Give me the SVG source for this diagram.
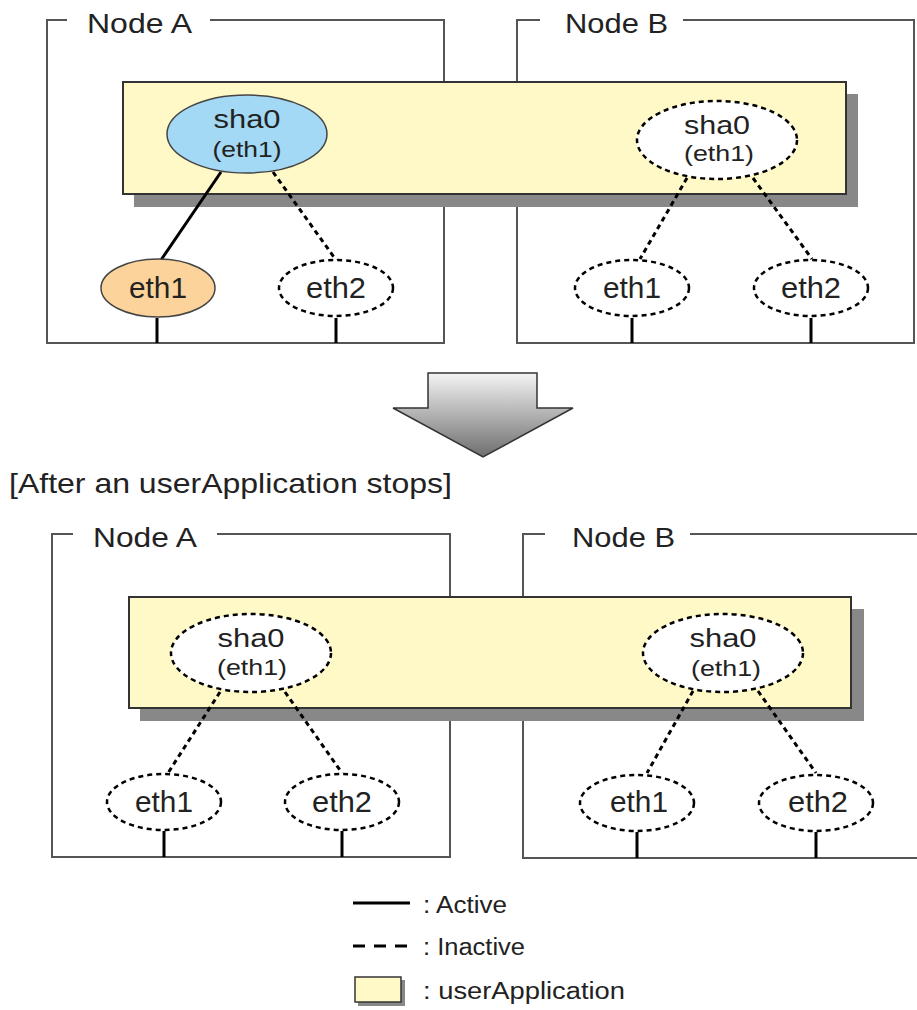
<svg xmlns="http://www.w3.org/2000/svg" width="917" height="1010" viewBox="0 0 917 1010">
<defs>
<linearGradient id="arrowGrad" x1="0" y1="0" x2="0" y2="1">
<stop offset="0" stop-color="#f4f4f4"/>
<stop offset="1" stop-color="#6e6e6e"/>
</linearGradient>
<style>
.frame{fill:none;stroke:#555;stroke-width:2}
.ua{fill:#fff9c8;stroke:#333;stroke-width:2}
.shadow{fill:#888}
.ell{stroke:#000;stroke-width:2.5;stroke-dasharray:5,4;fill:#fff}
.solidE{stroke:#444;stroke-width:1.5}
.act{stroke:#000;stroke-width:3;fill:none}
.inact{stroke:#000;stroke-width:3;fill:none;stroke-dasharray:5,4}
.stub{stroke:#000;stroke-width:3}
.t{font-family:"Liberation Sans",Arial,sans-serif;fill:#222}
.lab{font-size:28px}
.sha{font-size:25px}
.sm{font-size:22px}
.eth{font-size:29px}
.leg{font-size:23px}
</style>
</defs>
<rect width="917" height="1010" fill="#fff"/>

<!-- Top section -->
<g id="nodeA-top">
<path class="frame" d="M67,20 H47 V343 H444 V20 H210"/>
<text class="t lab" x="87" y="33" textLength="105" lengthAdjust="spacingAndGlyphs">Node A</text>
</g>
<g id="nodeB-top">
<path class="frame" d="M540,20 H517 V343 H914 V20 H683"/>
<text class="t lab" x="565" y="33" textLength="103" lengthAdjust="spacingAndGlyphs">Node B</text>
</g>
<g id="ua-top">
<rect class="shadow" x="134" y="94" width="724" height="113"/>
<rect class="ua" x="123" y="82" width="723" height="112"/>
</g>

<g id="connectors-top">
<line class="act" x1="221" y1="172" x2="161" y2="260"/>
<line class="inact" x1="273" y1="172" x2="336" y2="260"/>
<line class="inact" x1="687" y1="178" x2="640" y2="259"/>
<line class="inact" x1="753" y1="178" x2="812" y2="259"/>
<line class="stub" x1="157" y1="318" x2="157" y2="343"/>
<line class="stub" x1="336" y1="318" x2="336" y2="343"/>
<line class="stub" x1="632" y1="318" x2="632" y2="343"/>
<line class="stub" x1="811" y1="318" x2="811" y2="343"/>
</g>

<g id="sha0-A-top">
<ellipse class="solidE" cx="247" cy="134" rx="80" ry="39" fill="#a3d9f5"/>
<text class="t sha" x="247" y="128" text-anchor="middle" textLength="67" lengthAdjust="spacingAndGlyphs">sha0</text>
<text class="t sm" x="247" y="157" text-anchor="middle" textLength="69" lengthAdjust="spacingAndGlyphs">(eth1)</text>
</g>
<g id="eth1-A-top">
<ellipse class="solidE" cx="158" cy="288" rx="57" ry="29" fill="#fcd49b"/>
<text class="t eth" x="158" y="298" text-anchor="middle" textLength="58" lengthAdjust="spacingAndGlyphs">eth1</text>
</g>
<g id="eth2-A-top">
<ellipse class="ell" cx="336" cy="288" rx="57" ry="28"/>
<text class="t eth" x="336" y="298" text-anchor="middle" textLength="60" lengthAdjust="spacingAndGlyphs">eth2</text>
</g>
<g id="sha0-B-top">
<ellipse class="ell" cx="717" cy="140" rx="80" ry="39"/>
<text class="t sha" x="717" y="134" text-anchor="middle" textLength="66" lengthAdjust="spacingAndGlyphs">sha0</text>
<text class="t sm" x="719" y="161" text-anchor="middle" textLength="70" lengthAdjust="spacingAndGlyphs">(eth1)</text>
</g>
<g id="eth1-B-top">
<ellipse class="ell" cx="632" cy="288" rx="57" ry="28"/>
<text class="t eth" x="632" y="298" text-anchor="middle" textLength="58" lengthAdjust="spacingAndGlyphs">eth1</text>
</g>
<g id="eth2-B-top">
<ellipse class="ell" cx="811" cy="288" rx="57" ry="28"/>
<text class="t eth" x="811" y="298" text-anchor="middle" textLength="60" lengthAdjust="spacingAndGlyphs">eth2</text>
</g>

<!-- Transition arrow -->
<g id="arrow">
<path d="M428,373 H537 V408 H573 L483,457 L393,408 H428 Z" fill="url(#arrowGrad)" stroke="#333" stroke-width="1.5" stroke-linejoin="miter"/>
</g>

<text class="t lab" x="9" y="493" font-size="29" textLength="443" lengthAdjust="spacingAndGlyphs">[After an userApplication stops]</text>

<!-- Bottom section -->
<g id="nodeA-bottom">
<path class="frame" d="M73,534 H52 V857 H450 V534 H217"/>
<text class="t lab" x="93" y="547" textLength="104" lengthAdjust="spacingAndGlyphs">Node A</text>
</g>
<g id="nodeB-bottom">
<path class="frame" d="M545,534 H523 V858 H920 M920,534 H690"/>
<text class="t lab" x="572" y="547" textLength="103" lengthAdjust="spacingAndGlyphs">Node B</text>
</g>
<g id="ua-bottom">
<rect class="shadow" x="140" y="609" width="724" height="112"/>
<rect class="ua" x="129" y="597" width="722" height="111"/>
</g>

<g id="connectors-bottom">
<line class="inact" x1="220" y1="692" x2="168" y2="773"/>
<line class="inact" x1="285" y1="692" x2="342" y2="773"/>
<line class="inact" x1="693" y1="691" x2="647" y2="773"/>
<line class="inact" x1="758" y1="691" x2="816" y2="773"/>
<line class="stub" x1="164" y1="831" x2="164" y2="857"/>
<line class="stub" x1="342" y1="831" x2="342" y2="857"/>
<line class="stub" x1="637" y1="832" x2="637" y2="858"/>
<line class="stub" x1="816" y1="832" x2="816" y2="858"/>
</g>

<g id="sha0-A-bottom">
<ellipse class="ell" cx="251" cy="653" rx="80" ry="39"/>
<text class="t sha" x="251" y="647" text-anchor="middle" textLength="67" lengthAdjust="spacingAndGlyphs">sha0</text>
<text class="t sm" x="252" y="675" text-anchor="middle" textLength="70" lengthAdjust="spacingAndGlyphs">(eth1)</text>
</g>
<g id="eth1-A-bottom">
<ellipse class="ell" cx="164" cy="802" rx="57" ry="28"/>
<text class="t eth" x="164" y="812" text-anchor="middle" textLength="58" lengthAdjust="spacingAndGlyphs">eth1</text>
</g>
<g id="eth2-A-bottom">
<ellipse class="ell" cx="342" cy="802" rx="57" ry="28"/>
<text class="t eth" x="342" y="812" text-anchor="middle" textLength="60" lengthAdjust="spacingAndGlyphs">eth2</text>
</g>
<g id="sha0-B-bottom">
<ellipse class="ell" cx="723" cy="653" rx="80" ry="39"/>
<text class="t sha" x="723" y="647" text-anchor="middle" textLength="67" lengthAdjust="spacingAndGlyphs">sha0</text>
<text class="t sm" x="726" y="676" text-anchor="middle" textLength="70" lengthAdjust="spacingAndGlyphs">(eth1)</text>
</g>
<g id="eth1-B-bottom">
<ellipse class="ell" cx="637" cy="803" rx="57" ry="28"/>
<text class="t eth" x="639" y="812" text-anchor="middle" textLength="58" lengthAdjust="spacingAndGlyphs">eth1</text>
</g>
<g id="eth2-B-bottom">
<ellipse class="ell" cx="816" cy="803" rx="57" ry="28"/>
<text class="t eth" x="818" y="812" text-anchor="middle" textLength="60" lengthAdjust="spacingAndGlyphs">eth2</text>
</g>

<!-- Legend -->
<g id="legend">
<line class="act" x1="353" y1="903" x2="410" y2="903"/>
<text class="t leg" x="423" y="913" textLength="84" lengthAdjust="spacingAndGlyphs">: Active</text>
<line class="act" x1="353" y1="946" x2="408" y2="946" stroke-dasharray="12,9"/>
<text class="t leg" x="423" y="955" textLength="102" lengthAdjust="spacingAndGlyphs">: Inactive</text>
<rect x="358" y="980" width="47" height="26" fill="#888"/>
<rect x="355" y="977" width="46" height="25" fill="#fff9c8" stroke="#333" stroke-width="1.5"/>
<text class="t leg" x="423" y="999" textLength="202" lengthAdjust="spacingAndGlyphs">: userApplication</text>
</g>
</svg>
